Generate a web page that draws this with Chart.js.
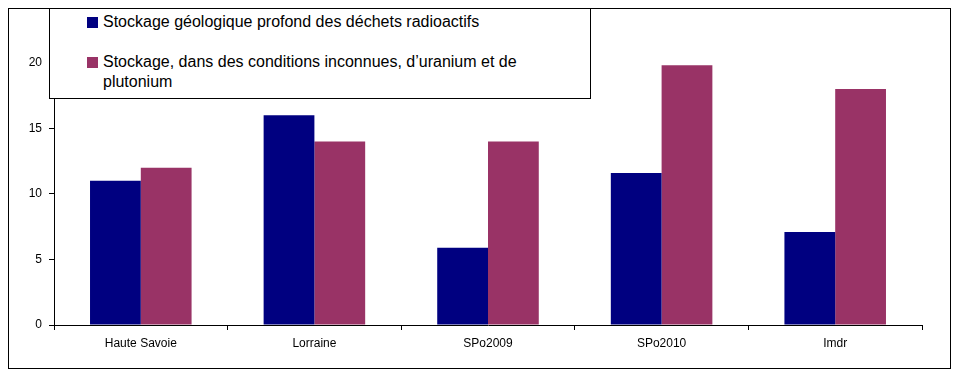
<!DOCTYPE html>
<html>
<head>
<meta charset="utf-8">
<script src="https://cdn.jsdelivr.net/npm/chart.js@4"></script>
<style>
  html, body { margin: 0; padding: 0; background: #fff; }
  #wrap { position: relative; width: 962px; height: 379px; }
  #frame { position: absolute; left: 8px; top: 8px; width: 943px; height: 361px; border: 1px solid #000; box-sizing: border-box; pointer-events: none; }
  #legend { position: absolute; left: 49px; top: 8px; width: 542px; height: 91px; border: 1px solid #000; box-sizing: border-box; background: #fff;
            font-family: "Liberation Sans", Arial, sans-serif; font-size: 16px; color: #000; }
  .item { position: absolute; left: 37px; width: 470px; line-height: 20px; padding-left: 16px; }
  .sw { position: absolute; left: 0; top: 5px; width: 11px; height: 11px; }
</style>
</head>
<body>
<div id="wrap">
  <canvas id="c" width="962" height="379"></canvas>
  <div id="frame"></div>
  <div id="legend"></div>
</div>
<script>
const categories = ["Haute Savoie", "Lorraine", "SPo2009", "SPo2010", "Imdr"];
const seriesNames = [
  "Stockage géologique profond des déchets radioactifs",
  "Stockage, dans des conditions inconnues, d’uranium et de plutonium"
];
const geologique = [11, 16, 5.9, 11.6, 7.1];
const inconnues = [12, 14, 14, 19.8, 18];
const yTicks = [0, 5, 10, 15, 20];
const colors = ["#000080", "#993366"];

// HTML legend (real text)
const legend = document.getElementById('legend');
const tops = [3, 43];
seriesNames.forEach((name, i) => {
  const d = document.createElement('div');
  d.className = 'item';
  d.style.top = tops[i] + 'px';
  const sw = document.createElement('span');
  sw.className = 'sw';
  sw.style.background = colors[i];
  d.appendChild(sw);
  d.appendChild(document.createTextNode(name));
  legend.appendChild(d);
});

new Chart(document.getElementById('c'), {
  type: 'bar',
  data: {
    labels: categories,
    datasets: [
      { label: seriesNames[0], data: geologique, backgroundColor: colors[0], borderWidth: 0 },
      { label: seriesNames[1], data: inconnues, backgroundColor: colors[1], borderWidth: 0 }
    ]
  },
  options: {
    responsive: false,
    animation: false,
    devicePixelRatio: 1,
    layout: { padding: { top: 0, right: 40, left: 0, bottom: 0 } },
    datasets: { bar: { categoryPercentage: 0.585, barPercentage: 1.0 } },
    plugins: { legend: { display: false }, tooltip: { enabled: false } },
    scales: {
      x: {
        offset: true,
        grid: { offset: true, drawOnChartArea: false, drawTicks: true, tickLength: 5, color: '#000', lineWidth: 1 },
        border: { display: true, color: '#000', width: 1 },
        ticks: { color: '#000', font: { family: 'Liberation Sans', size: 12 }, padding: 6, maxRotation: 0 },
        afterFit: s => { s.height = 54; }
      },
      y: {
        min: 0, max: 23.7,
        afterBuildTicks: s => { s.ticks = yTicks.map(v => ({ value: v })); },
        grid: { drawOnChartArea: false, drawTicks: true, tickLength: 5, color: '#000', lineWidth: 1 },
        border: { display: true, color: '#000', width: 1 },
        ticks: { color: '#000', font: { family: 'Liberation Sans', size: 12 }, padding: 7 },
        afterFit: s => { s.width = 54; }
      }
    }
  }
});
</script>
</body>
</html>
